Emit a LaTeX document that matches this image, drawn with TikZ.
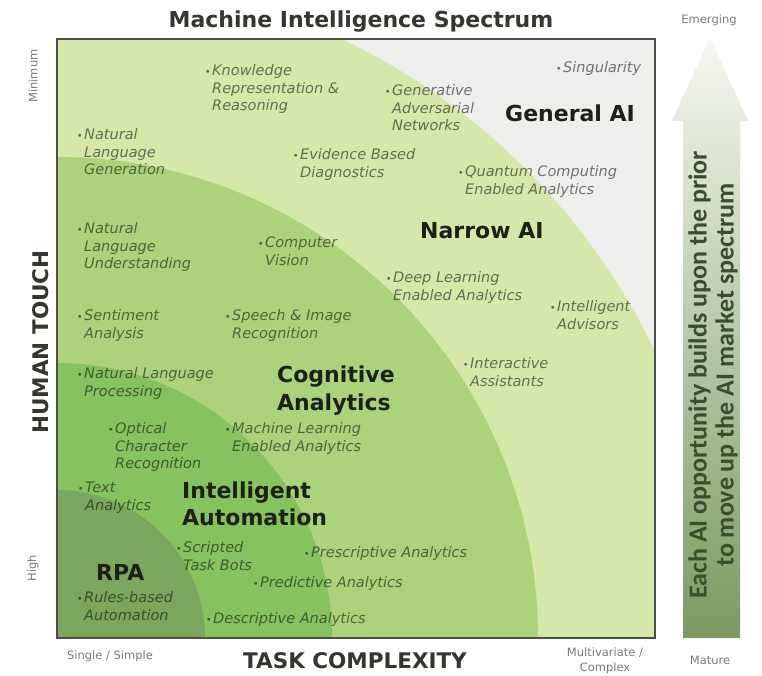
\documentclass[tikz,border=0pt]{standalone}
\usepackage{fontspec}
\setmainfont{DejaVu Sans}
\newfontfamily\carl{Carlito}
\definecolor{genbg}{HTML}{EEEFEC}
\definecolor{narrowc}{HTML}{D5E7A9}
\definecolor{cogc}{HTML}{ACD27B}
\definecolor{iac}{HTML}{86C25D}
\definecolor{rpac}{HTML}{7BA65D}
\definecolor{framec}{HTML}{4B4F47}
\definecolor{labc}{HTML}{1C2116}
\definecolor{smallc}{HTML}{7A7A7A}
\definecolor{arrtxt}{HTML}{3A4D2C}
\definecolor{arrtop}{HTML}{F6F7F2}
\definecolor{arrmid}{HTML}{B3D587}
\definecolor{arrbot}{HTML}{7B9960}
\newcommand\myitf{\fontsize{14.5}{17.5}\selectfont\itshape}
\newcommand\mybf{\fontsize{22}{27}\selectfont\bfseries}
\newcommand\bul{\llap{{\fontsize{10}{10}\selectfont •}\hspace{1.5pt}}}
\tikzset{
  itm/.style={font=\myitf, text=black, text opacity=0.52, align=left, anchor=base west, inner sep=0pt},
  biglab/.style={font=\mybf, text=labc, align=left, anchor=base west, inner sep=0pt},
  axislab/.style={font=\fontsize{21.5}{26}\selectfont\bfseries, text=labc!90, inner sep=0pt},
  smalllab/.style={font=\fontsize{11.5}{14.5}\selectfont, text=smallc, inner sep=0pt, align=center},
}
\begin{document}
\begin{tikzpicture}[x=1pt,y=-1pt]
\useasboundingbox (0,0) rectangle (762,675);
\fill[white] (0,0) rectangle (762,675);
% regions
\begin{scope}
\clip (57,39) rectangle (655,638);
\fill[genbg] (57,39) rectangle (655,638);
\fill[narrowc] (57,638) circle (663pt);
\fill[cogc] (57,638) circle (481pt);
\fill[iac] (57,638) circle (275pt);
\fill[rpac] (57,638) circle (148pt);
\end{scope}
\draw[framec, line width=2.6pt] (57,39) rectangle (655,638);

% title and axes
\node[font=\fontsize{22}{26}\selectfont\bfseries, text=labc!90, inner sep=0pt] (title) at (361,22) {Machine Intelligence Spectrum};
\node[axislab, rotate=90] (ht) at (41,342) {HUMAN TOUCH};
\node[axislab] (tc) at (355,661) {TASK COMPLEXITY};
\node[smalllab, rotate=90] (minl) at (33,76) {Minimum};
\node[smalllab, rotate=90] (highl) at (33,568) {High};
\node[smalllab] (single) at (110,656) {Single / Simple};
\node[smalllab, anchor=north] (multi) at (605,648) {Multivariate /\\Complex};
\node[smalllab] (emerg) at (709,20) {Emerging};
\node[smalllab] (mature) at (710,660) {Mature};

% arrow
\shade[top color=arrtop, middle color=arrmid, bottom color=arrbot]
  (710,38) -- (748,121) -- (740,121) -- (740,638) -- (683,638) -- (683,121) -- (672,121) -- cycle;
\node[rotate=90, font=\carl\fontsize{26}{27}\selectfont\bfseries, text=arrtxt, align=center, inner sep=0pt] (arrtext) at (713,375)
  {Each AI opportunity builds upon the prior\\to move up the AI market spectrum};

% region labels
\node[biglab] (gen) at (505,121) {General AI};
\node[biglab] (nar) at (420,238) {Narrow AI};
\node[biglab, font=\fontsize{22}{28}\selectfont\bfseries] (cog) at (277,410) {Cognitive\\Analytics};
\node[biglab, font=\fontsize{22}{26.5}\selectfont\bfseries] (intaut) at (182,525) {Intelligent\\Automation};
\node[biglab] (rpa) at (96,580) {RPA};

% items (anchor at baseline of the last line)
\node[itm] (kr) at (212,110.5) {\bul Knowledge\\Representation \&\\Reasoning};
\node[itm] (gan) at (392,130.5) {\bul Generative\\Adversarial\\Networks};
\node[itm] (sing) at (563,72.5) {\bul Singularity};
\node[itm] (nlg) at (84,174.5) {\bul Natural\\Language\\Generation};
\node[itm] (ebd) at (300,177) {\bul Evidence Based\\Diagnostics};
\node[itm] (qc) at (465,194) {\bul Quantum Computing\\Enabled Analytics};
\node[itm] (nlu) at (84,268.5) {\bul Natural\\Language\\Understanding};
\node[itm] (cv) at (265,265) {\bul Computer\\Vision};
\node[itm] (dl) at (393,300) {\bul Deep Learning\\Enabled Analytics};
\node[itm] (iadv) at (557,329) {\bul Intelligent\\Advisors};
\node[itm] (sa) at (84,338) {\bul Sentiment\\Analysis};
\node[itm] (sir) at (232,338) {\bul Speech \& Image\\Recognition};
\node[itm] (nlp) at (84,396) {\bul Natural Language\\Processing};
\node[itm] (intas) at (470,386) {\bul Interactive\\Assistants};
\node[itm] (ocr) at (115,468.5) {\bul Optical\\Character\\Recognition};
\node[itm] (ml) at (232,451) {\bul Machine Learning\\Enabled Analytics};
\node[itm] (ta) at (85,510) {\bul Text\\Analytics};
\node[itm] (stb) at (183,570) {\bul Scripted\\Task Bots};
\node[itm] (pres) at (311,557.5) {\bul Prescriptive Analytics};
\node[itm] (pred) at (260,587.5) {\bul Predictive Analytics};
\node[itm] (rba) at (84,620) {\bul Rules-based\\Automation};
\node[itm] (desc) at (213,623.5) {\bul Descriptive Analytics};
\end{tikzpicture}
\end{document}
